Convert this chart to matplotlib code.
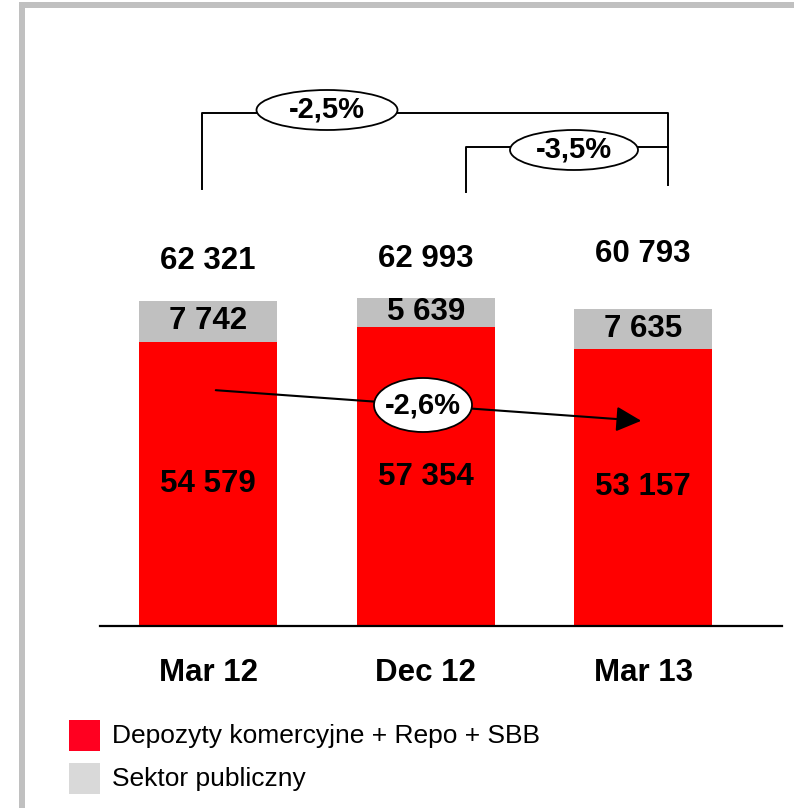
import matplotlib

matplotlib.use("Agg")
import matplotlib.pyplot as plt
from matplotlib.lines import Line2D
from matplotlib.patches import Ellipse, FancyArrowPatch, Rectangle

plt.rcParams["font.family"] = ["Liberation Sans", "DejaVu Sans"]

# data
categories = ["Mar 12", "Dec 12", "Mar 13"]
commercial = [54579, 57354, 53157]
public = [7742, 5639, 7635]
totals = [62321, 62993, 60793]
legend_labels = ["Depozyty komercyjne + Repo + SBB", "Sektor publiczny"]
change_labels = ["-2,5%", "-3,5%", "-2,6%"]

RED = "#FF0000"
GRAY = "#C0C0C0"
W, H = 794, 808
NUM_SIZE = 22.5

fig = plt.figure(figsize=(W / 100, H / 100), dpi=100)


def fx(x):
    return x / W


def fy(y):
    return 1 - y / H


def fline(xs, ys, **kw):
    fig.add_artist(Line2D([fx(x) for x in xs], [fy(y) for y in ys],
                          transform=fig.transFigure, **kw))


def fellipse(cx, cy, w, h, text, size=21):
    fig.add_artist(Ellipse((fx(cx), fy(cy)), w / W, h / H, transform=fig.transFigure,
                           facecolor="white", edgecolor="black", lw=1.3, zorder=5))
    fig.text(fx(cx), fy(cy), text, ha="center", va="center", fontsize=size,
             fontweight="bold", zorder=6)


# outer frame (top and left edges visible)
fline([19, W], [5, 5], color=GRAY, lw=4.3, solid_capstyle="butt")
fline([22, 22], [2, H], color=GRAY, lw=4.3, solid_capstyle="butt")

# bars
ax = fig.add_axes([fx(100), fy(626), fx(782) - fx(100), fy(0) - fy(626)])
x = list(range(len(categories)))
bw = 0.634
ax.bar(x, commercial, width=bw, color=RED, zorder=2)
ax.bar(x, public, width=bw, bottom=commercial, color=GRAY, zorder=2)
ax.set_xlim(-0.497, 2.638)
ax.set_ylim(0, 120100)
for s in ("top", "right", "left"):
    ax.spines[s].set_visible(False)
ax.spines["bottom"].set_linewidth(1.6)
ax.set_yticks([])
ax.set_xticks(x)
ax.set_xticklabels(categories, fontsize=NUM_SIZE, fontweight="bold")
ax.tick_params(axis="x", length=0, pad=23)


def fmt(v):
    return f"{v:,}".replace(",", " ")


total_offsets = [29, 28, 40]  # points above bar top
for i in x:
    ax.text(i, commercial[i] / 2, fmt(commercial[i]), ha="center", va="center",
            fontsize=NUM_SIZE, fontweight="bold", zorder=3)
    ax.text(i, commercial[i] + public[i] / 2, fmt(public[i]), ha="center", va="center",
            fontsize=NUM_SIZE, fontweight="bold", zorder=3)
    ax.annotate(fmt(totals[i]), (i, totals[i]), xytext=(0, total_offsets[i]),
                textcoords="offset points", ha="center", va="center",
                fontsize=NUM_SIZE, fontweight="bold")

# brackets
fline([202, 202, 668, 668], [189, 113, 113, 185], color="black", lw=1.4)
fline([466, 466, 668], [192, 147, 147], color="black", lw=1.4)
fellipse(327, 110, 141, 40, change_labels[0])
fellipse(574, 150, 128, 40, change_labels[1])

# arrow for commercial deposits
fig.add_artist(FancyArrowPatch(
    (fx(213), fy(390)), (fx(644), fy(421)), transform=fig.transFigure,
    arrowstyle="-|>,head_length=1.1,head_width=0.55", mutation_scale=14,
    color="black", lw=1.5, zorder=4))
fellipse(423, 405, 98, 54, change_labels[2])

# legend
for k, (lab, col) in enumerate(zip(legend_labels, ["#FF0020", "#D9D9D9"])):
    top = 720 + k * 43
    fig.add_artist(Rectangle((fx(69), fy(top + 31)), 31 / W, 31 / H,
                             transform=fig.transFigure, color=col, lw=0))
    fig.text(fx(112), fy(top + 16), lab, ha="left", va="center", fontsize=19)

fig.savefig("out.png", dpi=100)
